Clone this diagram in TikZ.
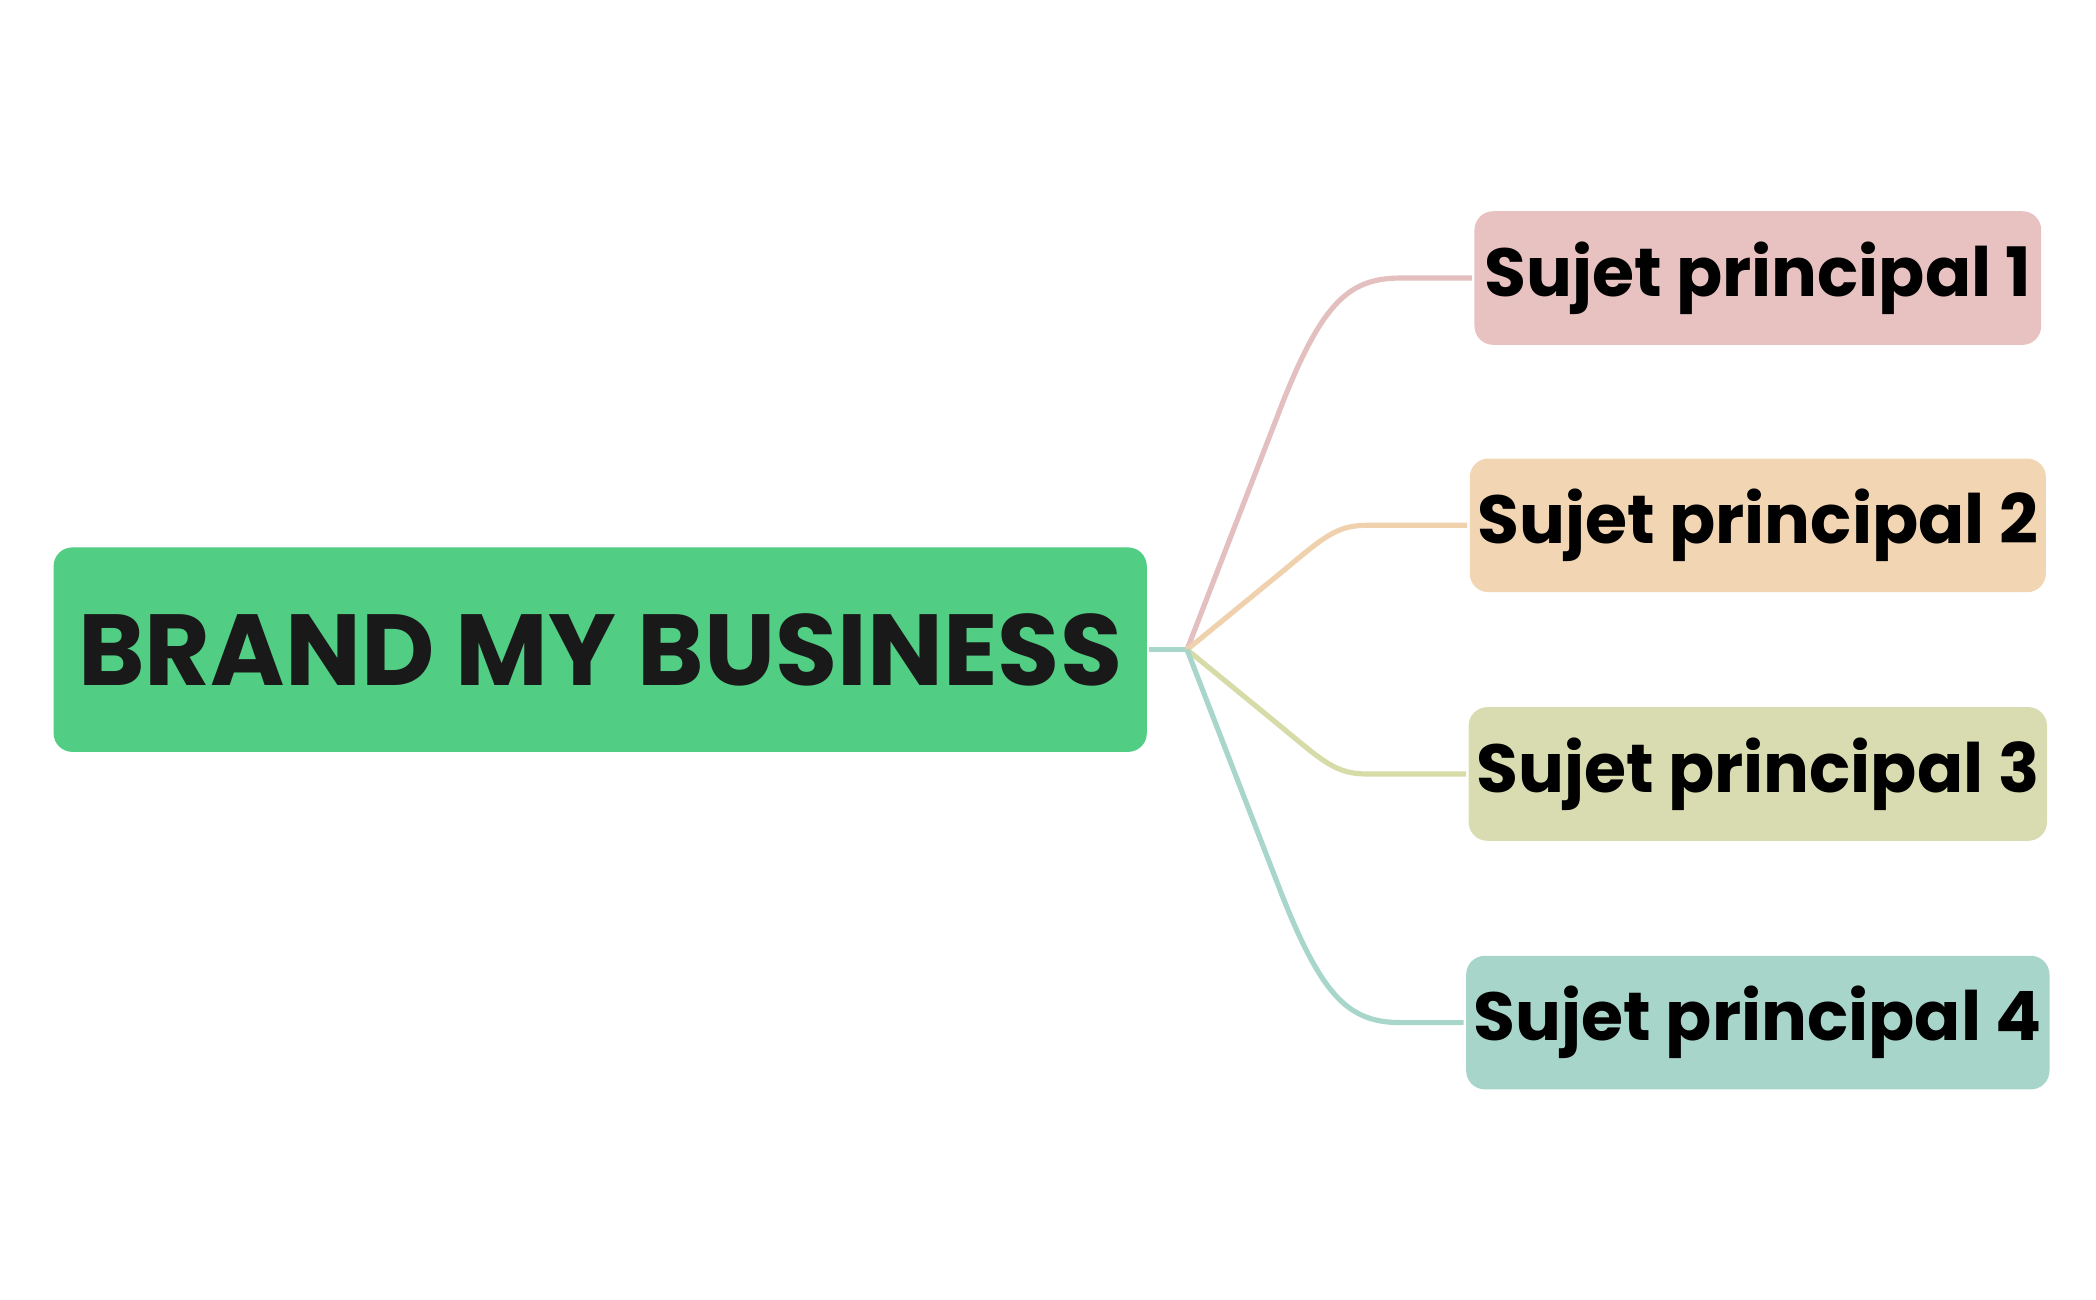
\documentclass[tikz,border=0pt]{standalone}
\usepackage{fontspec}
\setmainfont{Poppins}
\definecolor{rootgreen}{HTML}{52CD84}
\definecolor{fillA}{HTML}{E8C1C1}
\definecolor{fillB}{HTML}{F2D5B3}
\definecolor{fillC}{HTML}{D9DCB0}
\definecolor{fillD}{HTML}{A8D5CA}
\definecolor{lineA}{HTML}{E4BFC0}
\definecolor{lineB}{HTML}{F0D1AE}
\definecolor{lineC}{HTML}{D6DBA8}
\definecolor{lineD}{HTML}{A9D6CA}

\begin{document}
\begin{tikzpicture}[x=0.02cm,y=0.02cm,line width=2.2pt,
                    rootbox/.style={rectangle,rounded corners=0.28cm,fill=rootgreen,
                      minimum width=16.36cm,minimum height=3.06cm,
                      font=\fontsize{43}{50}\selectfont\bfseries,text=black!90},
                    topicbox/.style={rectangle,rounded corners=0.28cm,
                      minimum width=8.48cm,minimum height=2cm,
                      font=\fontsize{29}{34}\selectfont\bfseries}]

  \useasboundingbox (0,0) rectangle (1568,-972);

  \node[rootbox] (root) at (449,-486) {BRAND MY BUSINESS};
  \coordinate (hub) at (888,-486);

  \node[topicbox,fill=fillA] (topic1) at (1315,-208) {Sujet principal 1};
  \node[topicbox,fill=fillB] (topic2) at (1315,-393) {Sujet principal 2};
  \node[topicbox,fill=fillC] (topic3) at (1315,-579) {Sujet principal 3};
  \node[topicbox,fill=fillD] (topic4) at (1315,-765) {Sujet principal 4};

  \draw[lineD] (root.east) -- (hub);
  \draw[lineA] (hub) -- (960,-300) .. controls (990,-225) and (1010,-208) .. (1048,-208) -- (topic1.west);
  \draw[lineB] (hub) -- (960,-427) .. controls (990,-402) and (1000,-393) .. (1022,-393) -- (topic2.west);
  \draw[lineC] (hub) -- (960,-545) .. controls (990,-570) and (1000,-579) .. (1022,-579) -- (topic3.west);
  \draw[lineD] (hub) -- (960,-672) .. controls (990,-747) and (1010,-765) .. (1048,-765) -- (topic4.west);
\end{tikzpicture}
\end{document}
